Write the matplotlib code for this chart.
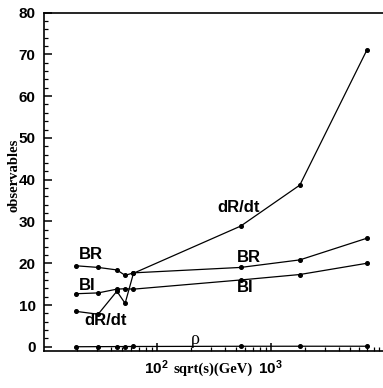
import matplotlib
matplotlib.use("Agg")
import matplotlib.pyplot as plt
from matplotlib.ticker import MultipleLocator, LogLocator, NullFormatter

energies = [19.4, 30.6, 44.7, 52.8, 62.5, 546, 1800, 7000]
BR = [19.4, 19.0, 18.4, 17.1, 17.7, 19.0, 20.8, 26.0]
BI = [12.7, 12.9, 13.8, 13.9, 13.8, 16.0, 17.3, 20.0]
dRdt = [8.5, 7.8, 13.3, 10.4, 17.6, 28.9, 38.7, 71.1]
rho = [0.02, 0.04, 0.06, 0.07, 0.08, 0.13, 0.14, 0.14]

labels = [("BR", 26.5, 22.0), ("BI", 24.7, 14.7), ("dR/dt", 35.6, 6.2),
          ("dR/dt", 522, 33.3), ("BR", 643, 21.4), ("BI", 599, 14.1)]

plt.rcParams["mathtext.fontset"] = "custom"
plt.rcParams["mathtext.bf"] = "Liberation Sans:bold"

fig = plt.figure(figsize=(3.83, 3.88), dpi=100)
ax = fig.add_axes([44/383, 37/388, 339/383, 338.5/388])

for series in (BR, BI, dRdt, rho):
    ax.plot(energies, series, color="black", lw=0.9, marker="o", ms=2.6)

ax.set_xscale("log")
ax.set_xlim(10**1.011, 10**3.985)
ax.set_ylim(-1, 80)

sans = ["Liberation Sans", "DejaVu Sans"]
serif = ["Liberation Serif", "DejaVu Serif"]

for txt, x, y in labels:
    ax.text(x, y, txt, ha="center", va="center", fontsize=12, fontweight="bold", family=sans)
ax.text(217, 1.8, "ρ", ha="center", va="center", fontsize=13, family=serif)

ax.yaxis.set_major_locator(MultipleLocator(10))
ax.yaxis.set_minor_locator(MultipleLocator(2))
ax.xaxis.set_minor_locator(LogLocator(base=10, subs=range(2, 10), numticks=10))
ax.xaxis.set_minor_formatter(NullFormatter())
ax.set_xticks([100, 1000])
ax.set_xticklabels([r"$\mathbf{10^{2}}$", r"$\mathbf{10^{3}}$"])

ax.tick_params(axis="both", which="major", direction="in", length=6, width=1.1, labelsize=11)
ax.tick_params(axis="both", which="minor", direction="in", length=3, width=0.9)
ax.tick_params(axis="y", pad=6)
ax.tick_params(axis="x", pad=5)
ax.tick_params(top=False, right=False, which="both")
for lab in ax.get_yticklabels():
    lab.set_fontweight("bold")
    lab.set_family(sans)

ax.spines["right"].set_visible(False)
for s in ("left", "bottom", "top"):
    ax.spines[s].set_linewidth(1.2)

ax.set_xlabel("sqrt(s)(GeV)", fontsize=10.5, fontweight="bold", family=serif)
ax.set_ylabel("observables", fontsize=10.5, fontweight="bold", family=serif)
ax.yaxis.set_label_coords(-0.07, 0.52)
ax.xaxis.set_label_coords(0.5, -0.035)

fig.savefig("out.png", dpi=100)
